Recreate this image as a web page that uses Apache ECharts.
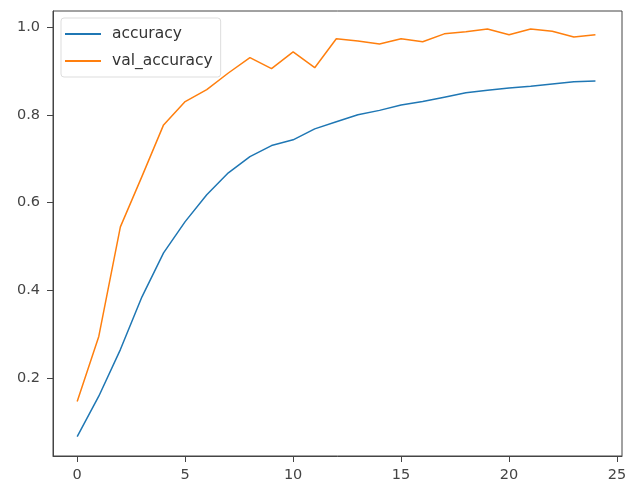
<!DOCTYPE html>
<html>
<head>
<meta charset="utf-8">
<script src="https://cdn.jsdelivr.net/npm/echarts@6/dist/echarts.min.js"></script>
<style>html,body{margin:0;padding:0;background:#fff}#c{width:636px;height:487px}</style>
</head>
<body>
<div id="c"></div>
<script>
const epochs = [0,1,2,3,4,5,6,7,8,9,10,11,12,13,14,15,16,17,18,19,20,21,22,23,24];
const accuracy = [0.068,0.16,0.266,0.386,0.486,0.557,0.618,0.668,0.705,0.73,0.743,0.768,0.784,0.8,0.81,0.822,0.83,0.84,0.85,0.856,0.861,0.865,0.87,0.875,0.877];
const valAccuracy = [0.148,0.296,0.545,0.66,0.777,0.83,0.857,0.895,0.93,0.905,0.943,0.907,0.973,0.968,0.961,0.973,0.966,0.984,0.989,0.995,0.982,0.995,0.99,0.977,0.982];
const xTicks = [0,5,10,15,20,25];
const yTicks = [0.2,0.4,0.6,0.8,1.0];
const seriesNames = ['accuracy','val_accuracy'];

const chart = echarts.init(document.getElementById('c'));
const font = 'DejaVu Sans';
chart.setOption({
  animation:false,
  backgroundColor:'#fff',
  grid:{left:53,right:14,top:11,bottom:31,show:true,borderColor:'#444',borderWidth:1},
  legend:{
    left:61,top:18,orient:'vertical',
    data:seriesNames,
    icon:'path://M0,0 L36,0 L36,2 L0,2 Z',
    itemWidth:36,itemHeight:2,itemGap:11,
    padding:[8,8,8,4],
    borderColor:'#ddd',borderWidth:1,borderRadius:3,backgroundColor:'rgba(255,255,255,0.8)',
    textStyle:{fontFamily:font,fontSize:15.5,color:'#333',padding:[0,0,0,6]}
  },
  xAxis:{
    type:'value',min:-1.12,max:25.23,
    splitLine:{show:false},
    axisLine:{show:true,onZero:false,lineStyle:{color:'#444'}},
    axisTick:{show:true,length:6,customValues:xTicks,lineStyle:{color:'#444'}},
    axisLabel:{customValues:xTicks,fontFamily:font,fontSize:14.5,color:'#444',margin:12}
  },
  yAxis:{
    type:'value',min:0.024,max:1.036,
    splitLine:{show:false},
    axisLine:{show:true,onZero:false,lineStyle:{color:'#444'}},
    axisTick:{show:true,length:6,customValues:yTicks,lineStyle:{color:'#444'}},
    axisLabel:{customValues:yTicks,fontFamily:font,fontSize:14.5,color:'#444',margin:13,formatter:v=>v.toFixed(1)}
  },
  series:[
    {name:seriesNames[0],type:'line',data:epochs.map((e,i)=>[e,accuracy[i]]),showSymbol:false,
     lineStyle:{color:'#1f77b4',width:1.5},itemStyle:{color:'#1f77b4'}},
    {name:seriesNames[1],type:'line',data:epochs.map((e,i)=>[e,valAccuracy[i]]),showSymbol:false,
     lineStyle:{color:'#ff7f0e',width:1.5},itemStyle:{color:'#ff7f0e'}}
  ]
});
</script>
</body>
</html>
